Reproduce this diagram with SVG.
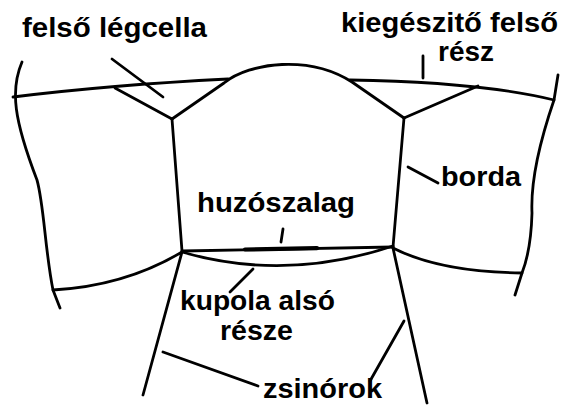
<svg xmlns="http://www.w3.org/2000/svg" width="562" height="406" viewBox="0 0 562 406">
  <style>
    .ln { fill: none; stroke: #000; stroke-width: 2.8; stroke-linecap: round; stroke-linejoin: round; }
    .band { fill: none; stroke: #000; stroke-width: 4.2; stroke-linecap: round; }
    .lbl { font-family: "Liberation Sans", Arial, sans-serif; font-weight: bold; font-size: 27px; fill: #000; }
  </style>
  <rect width="562" height="406" fill="#fff"/>

  <!-- canopy outline -->
  <g id="canopy">
    <!-- left side cell -->
    <path class="ln" d="M22,62 C10,90 14,120 37,180 C44,205 45,250 53,290 L60,308"/>
    <path class="ln" d="M53,290 Q125,286 182,252"/>
    <!-- right side cell -->
    <path class="ln" d="M558,75 L554,100 Q530,170 532,213 Q531,250 522,273 L515,295"/>
    <path class="ln" d="M393,248 Q440,272 522,273"/>
    <!-- upper edge behind the dome -->
    <path class="ln" d="M13,97 Q110,85 228,79"/>
    <path class="ln" d="M350,80 Q480,82 554,100"/>
    <!-- central dome -->
    <path class="ln" d="M172,119 L224,83 C250,62 310,55 352,82 L404,118"/>
    <!-- upper air-cell triangles -->
    <path class="ln" d="M115,88 L172,119"/>
    <path class="ln" d="M404,118 L478,86"/>
    <!-- ribs -->
    <path class="ln" d="M172,119 L182,251"/>
    <path class="ln" d="M404,118 L393,247"/>
    <!-- tension band and lower dome edge -->
    <path class="ln" d="M182,251 L393,247"/>
    <path class="band" d="M245,249.5 L317,248.2"/>
    <path class="ln" d="M182,252 Q285,282 393,246"/>
    <!-- suspension lines -->
    <path class="ln" d="M182,252 L143,395"/>
    <path class="ln" d="M393,248 L427,403"/>
  </g>

  <!-- label leader lines -->
  <g id="leaders">
    <path class="ln" d="M112,59 L163,97"/>
    <path class="ln" d="M423,56 L423,78"/>
    <path class="ln" d="M408,167 L438,183"/>
    <path class="ln" d="M283,229 L281,242"/>
    <path class="ln" d="M253,269 L230,292"/>
    <path class="ln" d="M163,352 L258,386"/>
    <path class="ln" d="M404,321 L370,381"/>
  </g>

  <g id="labels">
    <text class="lbl" x="22" y="37" textLength="185" lengthAdjust="spacingAndGlyphs">felső légcella</text>
    <text class="lbl" x="341" y="32" textLength="217" lengthAdjust="spacingAndGlyphs">kiegészitő felső</text>
    <text class="lbl" x="438" y="61" font-size="21" textLength="56" lengthAdjust="spacingAndGlyphs">rész</text>
    <text class="lbl" x="441" y="186" textLength="80" lengthAdjust="spacingAndGlyphs">borda</text>
    <text class="lbl" x="197" y="212" textLength="158" lengthAdjust="spacingAndGlyphs">huzószalag</text>
    <text class="lbl" x="180" y="310" textLength="155" lengthAdjust="spacingAndGlyphs">kupola alsó</text>
    <text class="lbl" x="220" y="340" textLength="73" lengthAdjust="spacingAndGlyphs">része</text>
    <text class="lbl" x="263" y="398" textLength="119" lengthAdjust="spacingAndGlyphs">zsinórok</text>
  </g>
</svg>
